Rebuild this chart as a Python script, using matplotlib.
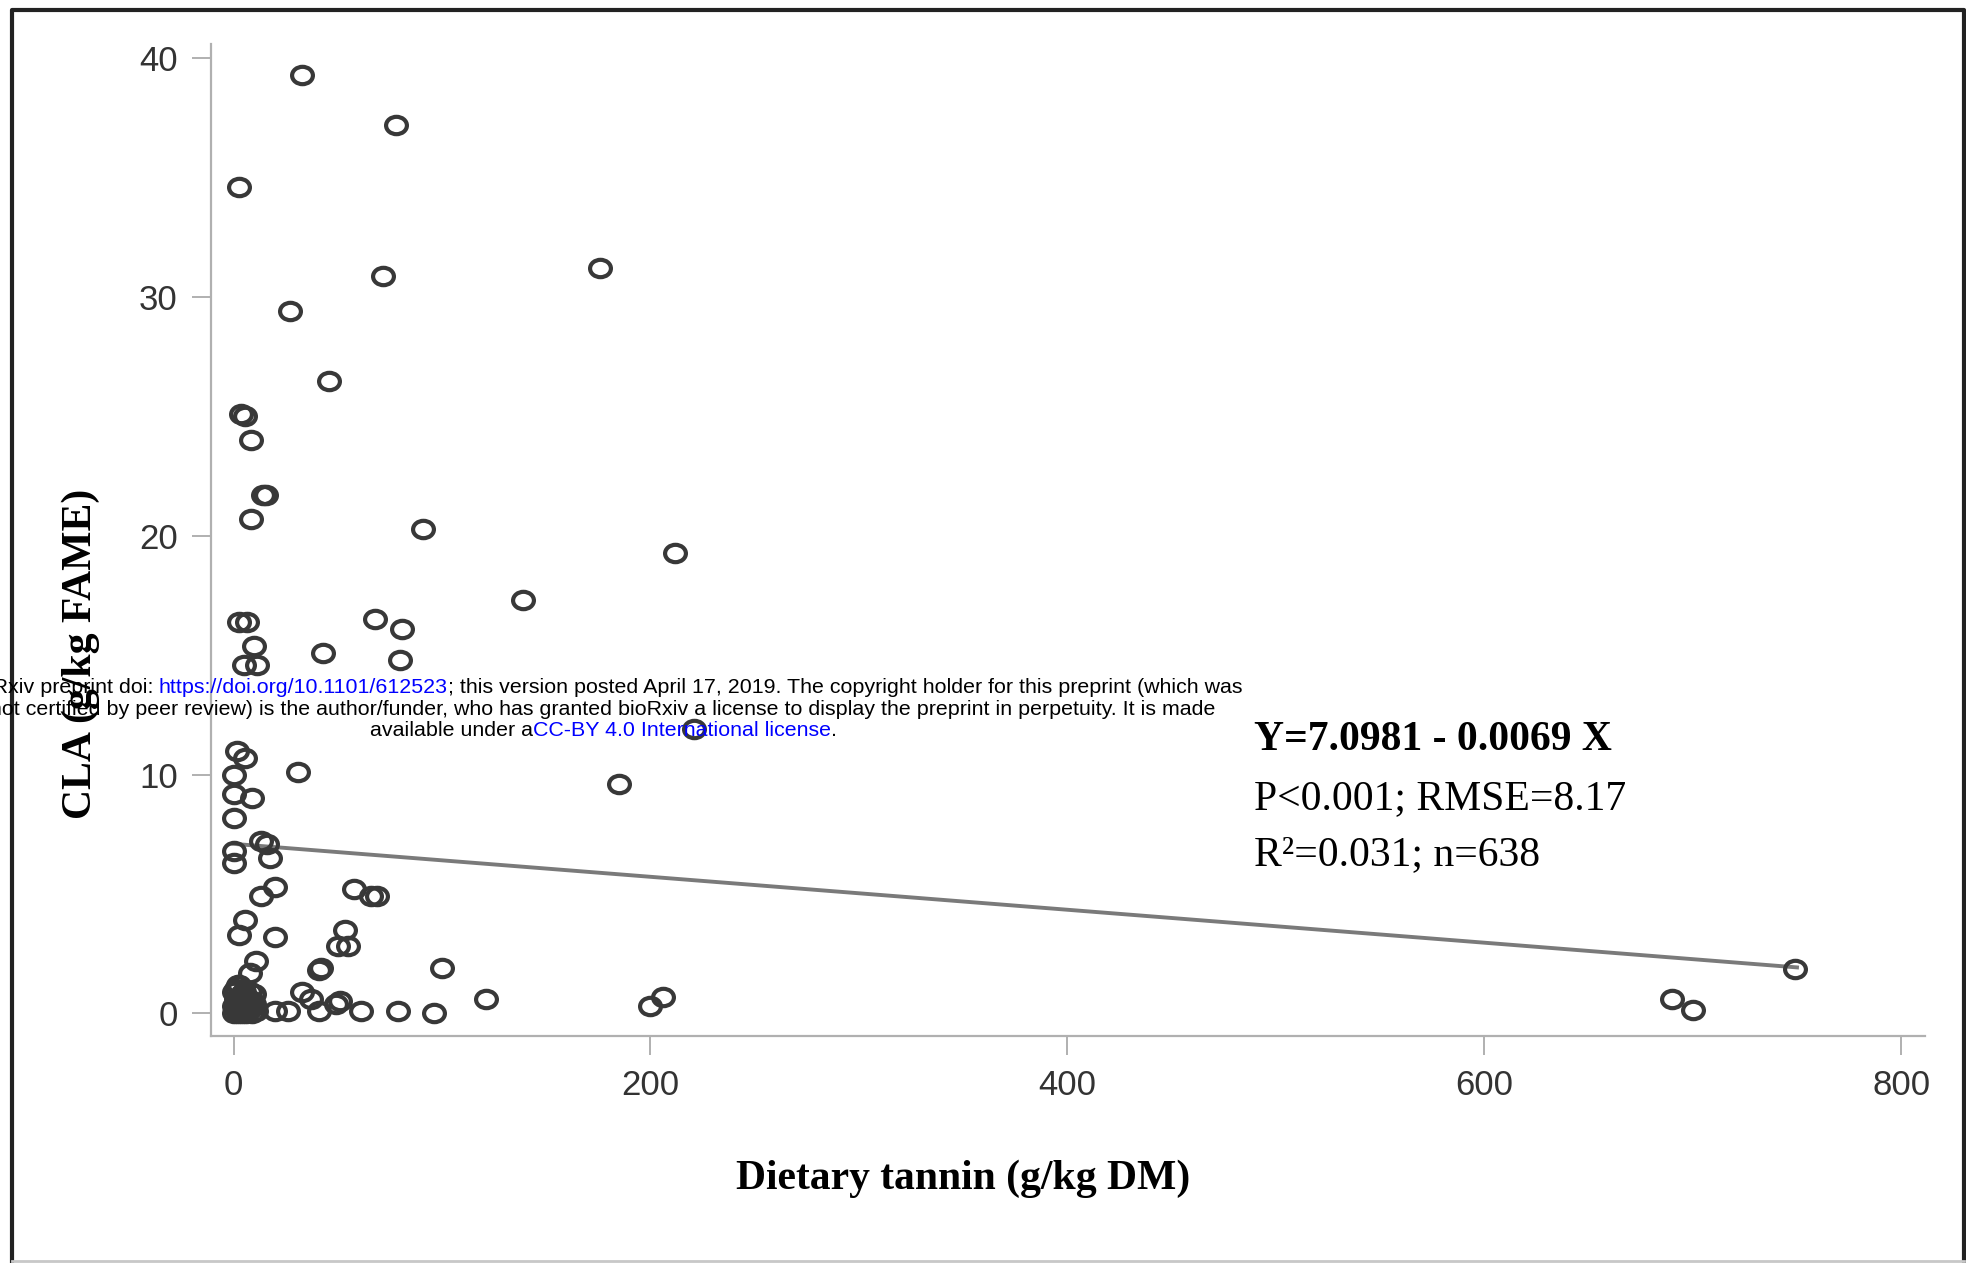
import numpy as np
import matplotlib
matplotlib.use("Agg")
import matplotlib.pyplot as plt
from matplotlib.path import Path
from matplotlib import transforms
from matplotlib.lines import Line2D

# scatter values (tannin g/kg DM, CLA g/kg FAME)
tannin = [33, 78, 2.4, 71.6, 175.6, 27, 46, 3.6, 5.4, 8.4, 14, 15.6, 8.4, 91, 212,
          139, 2.4, 6.6, 68, 81, 9.6, 43, 4.8, 11.4, 80, 221, 1.8, 5.4, 30.7, 0,
          0, 9, 0, 185, 13, 16, 0, 17.4, 0, 5.4, 2.4, 13, 20, 58, 66, 69,
          20, 53.5, 50, 55, 11, 8, 2.4, 41, 42, 33, 37, 100, 121, 206,
          200, 49, 51, 41, 20, 26, 61, 79, 96,
          0, 1, 2, 3, 4, 5, 6, 7, 8, 10, 2, 0, 4, 8, 11, 1, 3, 6, 9,
          0, 1, 3, 5, 6, 9, 7, 2, 4, 10,
          690, 700, 749]
cla = [39.3, 37.2, 34.6, 30.9, 31.2, 29.4, 26.5, 25.1, 25.0, 24.0, 21.7, 21.7, 20.7, 20.3, 19.3,
       17.3, 16.4, 16.4, 16.5, 16.1, 15.4, 15.1, 14.6, 14.6, 14.8, 11.9, 11.0, 10.7, 10.1, 10.0,
       9.2, 9.0, 8.2, 9.6, 7.2, 7.1, 6.8, 6.5, 6.3, 3.9, 3.3, 4.9, 5.3, 5.2, 4.9, 4.9,
       3.2, 3.5, 2.8, 2.8, 2.2, 1.7, 1.2, 1.8, 1.9, 0.9, 0.6, 1.9, 0.6, 0.7,
       0.3, 0.4, 0.5, 0.1, 0.1, 0.1, 0.1, 0.1, 0.0,
       0.0, 0.2, 0.5, 0.1, 0.8, 0.3, 0.0, 0.6, 0.2, 0.4, 1.2, 0.9, 0.0, 0.9, 0.1, 0.6, 0.4, 0.2, 0.5,
       0.3, 1.0, 0.7, 0.9, 0.4, 0.0, 0.1, 0.0, 0.4, 0.8,
       0.6, 0.15, 1.85]

intercept = 7.0981
slope = -0.0069
fit_x = [0, 750]

xticks = [0, 200, 400, 600, 800]
yticks = [0, 10, 20, 30, 40]

W, H = 1966, 1263
fig = plt.figure(figsize=(W / 100, H / 100), dpi=100)
ax = fig.add_axes([211 / W, 1 - 1036 / H, (1925 - 211) / W, (1036 - 44) / H])

# open ellipse marker like the SAS plot
ell = Path.unit_circle().transformed(transforms.Affine2D().scale(1.2, 1.0))

fy = [intercept + slope * v for v in fit_x]
ax.plot(fit_x, fy, color="#7a7a7a", lw=2.8, zorder=2)
ax.plot(tannin, cla, ls="none", marker=ell, ms=15, mew=3.0, mec="#383838",
        mfc="none", zorder=3)

ax.set_xlim(-10.8, 811.4)
ax.set_ylim(-0.95, 40.6)
ax.set_xticks(xticks)
ax.set_yticks(yticks)
for s in ["top", "right"]:
    ax.spines[s].set_visible(False)
for s in ["left", "bottom"]:
    ax.spines[s].set_color("#b0b0b0")
    ax.spines[s].set_linewidth(1.6)
ax.tick_params(length=14, width=1.4, color="#b0b0b0", labelsize=25,
               labelcolor="#333333", pad=10)
for t in ax.get_xticklabels() + ax.get_yticklabels():
    t.set_family("Liberation Sans")

serif = "Liberation Serif"
fig.text(963 / W, 1 - 1179 / H, "Dietary tannin (g/kg DM)", ha="center", va="center",
         fontsize=30, fontweight="bold", family=serif)
fig.text(81 / W, 1 - 654 / H, "CLA (g/kg FAME)", ha="center", va="center",
         rotation=90, fontsize=30, fontweight="bold", family=serif)

fig.text(1254 / W, 1 - 750 / H, "Y=7.0981 - 0.0069 X", fontsize=30, fontweight="bold",
         family=serif, va="baseline")
fig.text(1254 / W, 1 - 809 / H, "P<0.001; RMSE=8.17", fontsize=30, family=serif,
         va="baseline")
fig.text(1254 / W, 1 - 865 / H, "R²=0.031; n=638", fontsize=30, family=serif,
         va="baseline")

# figure frame: dark left/top/right, light bottom
px = transforms.IdentityTransform()
fig.lines.append(Line2D([12, 12, 1964, 1964], [1, H - 10, H - 10, 1], transform=px,
                        color="#222222", lw=3.0))
fig.lines.append(Line2D([12, 1964], [2, 2], transform=px, color="#c8c8c8", lw=2.0))

# bioRxiv watermark, centred lines with blue links
blue = "#0000ff"
lines = [
    [("bioRxiv preprint doi: ", "black"), ("https://doi.org/10.1101/612523", blue),
     ("; this version posted April 17, 2019. The copyright holder for this preprint (which was", "black")],
    [("not certified by peer review) is the author/funder, who has granted bioRxiv a license to display the preprint in perpetuity. It is made", "black")],
    [("available under a", "black"), ("CC-BY 4.0 International license", blue), (".", "black")],
]
baselines = [693, 715, 736]
cx = 603
wfs = 15.4
fig.canvas.draw()
rend = fig.canvas.get_renderer()


def txt_w(s):
    t = fig.text(0, 0, s, fontsize=wfs, family="Liberation Sans", transform=px)
    w = t.get_window_extent(rend).width
    t.remove()
    return w


wI = txt_w("I")
for segs, yb in zip(lines, baselines):
    full = "".join(s for s, c in segs)
    left = cx - txt_w(full) / 2
    prefix = ""
    for s, c in segs:
        x0 = left + (txt_w(prefix + "I") - wI if prefix else 0)
        fig.text(x0, H - yb, s, fontsize=wfs, family="Liberation Sans", color=c,
                 transform=px, va="baseline")
        prefix += s

fig.savefig("out.png", dpi=100)
